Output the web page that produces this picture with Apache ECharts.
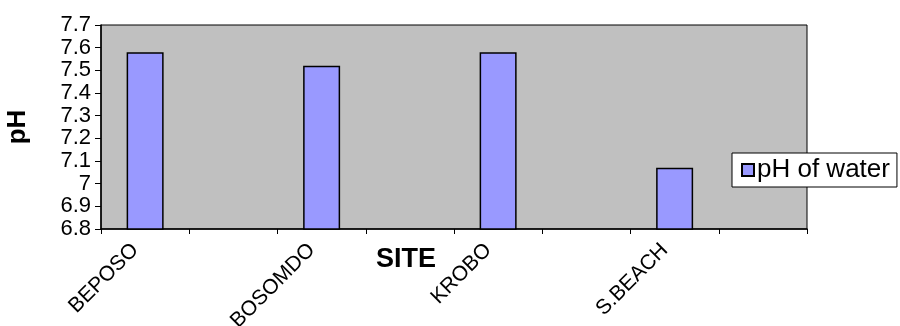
<!DOCTYPE html>
<html>
<head>
<meta charset="utf-8">
<script src="https://cdn.jsdelivr.net/npm/echarts@6/dist/echarts.min.js"></script>
<style>
  html, body { margin: 0; padding: 0; background: #ffffff; }
  #chart { width: 900px; height: 326px; }
</style>
</head>
<body>
<div id="chart"></div>
<script>
// Sampling sites along the x axis; blank slots leave gaps between the bars.
const sites = ['BEPOSO', '', 'BOSOMDO', '', 'KROBO', '', 'S.BEACH', ''];
// pH measured at each site (null where no sample sits in the slot).
const phValues = [7.58, null, 7.52, null, 7.58, null, 7.07, null];
const seriesName = 'pH of water';
const yMin = 6.8;
const yMax = 7.7;
const yStep = 0.1;

const FONT = '"Liberation Sans", Arial, sans-serif';

const chart = echarts.init(document.getElementById('chart'), null, { renderer: 'canvas' });

chart.setOption({
  animation: false,
  backgroundColor: '#ffffff',
  textStyle: { fontFamily: FONT, color: '#000' },
  grid: {
    left: 101, right: 93, top: 25, bottom: 97,
    containLabel: false,
    outerBoundsMode: 'none',
    show: true,
    backgroundColor: '#c0c0c0',
    borderColor: '#000',
    borderWidth: 1
  },
  legend: {
    data: [seriesName],
    left: 732, top: 153,
    padding: [4, 7, 4, 9],
    itemWidth: 12, itemHeight: 12, itemGap: 4,
    backgroundColor: '#ffffff',
    borderColor: '#000', borderWidth: 1,
    borderRadius: 0,
    textStyle: { fontFamily: FONT, fontSize: 26, color: '#000', padding: [0, 0, 0, -2] },
    icon: 'rect'
  },
  xAxis: {
    type: 'category',
    data: sites,
    name: 'SITE',
    nameLocation: 'middle',
    nameGap: 17,
    nameMoveOverlap: false,
    nameTextStyle: { fontFamily: FONT, fontSize: 27, fontWeight: 'bold', color: '#000', padding: [0, 96, 0, 0] },
    axisLine: { lineStyle: { color: '#000', width: 1.5 } },
    axisTick: { show: true, length: 5, interval: 0, lineStyle: { color: '#000' } },
    axisLabel: {
      interval: 0, rotate: 45, margin: 8,
      fontFamily: FONT, fontSize: 21, color: '#000',
      padding: [0, 14, 0, 0],
      hideOverlap: false
    },
    splitLine: { show: false }
  },
  yAxis: {
    type: 'value',
    min: yMin, max: yMax, interval: yStep,
    name: 'pH',
    nameLocation: 'middle',
    nameGap: 70,
    nameMoveOverlap: false,
    nameTextStyle: { fontFamily: FONT, fontSize: 26, fontWeight: 'bold', color: '#000' },
    axisLine: { show: true, lineStyle: { color: '#000', width: 1.5 } },
    axisTick: { show: true, length: 6, lineStyle: { color: '#000' } },
    axisLabel: { margin: 10, fontFamily: FONT, fontSize: 22, color: '#000' },
    splitLine: { show: false }
  },
  series: [{
    name: seriesName,
    type: 'bar',
    data: phValues,
    barWidth: 37,
    itemStyle: { color: '#9999ff', borderColor: '#000', borderWidth: 1.5 }
  }]
});
</script>
</body>
</html>
